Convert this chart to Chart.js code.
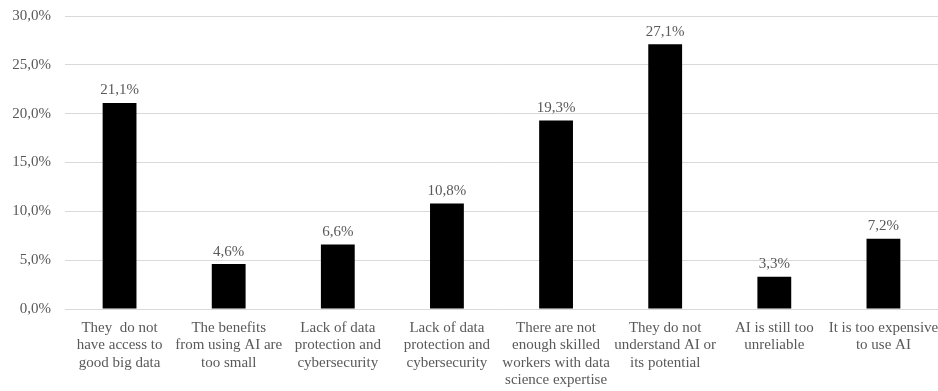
<!DOCTYPE html>
<html>
<head>
<meta charset="utf-8">
<script src="https://cdn.jsdelivr.net/npm/chart.js@4.4.1/dist/chart.umd.min.js"></script>
<style>
  html, body { margin: 0; padding: 0; background: #fff; }
  #wrap { width: 938px; height: 391px; position: relative; }
</style>
</head>
<body>
<div id="wrap"><canvas id="c"></canvas></div>
<script>
// Reasons given for not using AI (share of respondents, %)
const categories = [
  ["They  do not", "have access to", "good big data"],
  ["The benefits", "from using AI are", "too small"],
  ["Lack of data", "protection and", "cybersecurity"],
  ["Lack of data", "protection and", "cybersecurity"],
  ["There are not", "enough skilled", "workers with data", "science expertise"],
  ["They do not", "understand AI or", "its potential"],
  ["AI is still too", "unreliable"],
  ["It is too expensive", "to use AI"]
];
const shares = [21.1, 4.6, 6.6, 10.8, 19.3, 27.1, 3.3, 7.2];
const yTicks = [0, 5, 10, 15, 20, 25, 30];

const FONT = "'Liberation Serif', 'DejaVu Serif', serif";
const TEXT = "#595959";
const fmt = v => v.toFixed(1).replace(".", ",") + "%";

// Writes each bar's value just above it
const valueLabels = {
  id: "valueLabels",
  afterDatasetsDraw(chart) {
    const ctx = chart.ctx;
    const meta = chart.getDatasetMeta(0);
    ctx.save();
    ctx.font = "15px " + FONT;
    ctx.fillStyle = TEXT;
    ctx.textAlign = "center";
    ctx.textBaseline = "bottom";
    meta.data.forEach((bar, i) => {
      ctx.fillText(fmt(shares[i]), bar.x, bar.y - 5);
    });
    ctx.restore();
  }
};

new Chart(document.getElementById("c"), {
  type: "bar",
  data: {
    labels: categories,
    datasets: [{
      data: shares,
      backgroundColor: "#000",
      borderWidth: 0,
      barPercentage: 0.31,
      categoryPercentage: 1
    }]
  },
  options: {
    responsive: true,
    maintainAspectRatio: false,
    animation: false,
    layout: { padding: { top: 16, right: 0, left: 0, bottom: 0 } },
    plugins: { legend: { display: false }, tooltip: { enabled: false } },
    scales: {
      x: {
        grid: { display: false, drawTicks: false },
        border: { display: false },
        ticks: {
          color: TEXT,
          font: { family: FONT, size: 15, lineHeight: 1.17 },
          padding: 10,
          maxRotation: 0,
          autoSkip: false
        },
        afterFit(scale) {
          scale.height = 82;
          scale.paddingLeft = 0;
          scale.paddingRight = 0;
        }
      },
      y: {
        min: 0,
        max: 30,
        afterBuildTicks(scale) { scale.ticks = yTicks.map(v => ({ value: v })); },
        grid: { color: "#d9d9d9", lineWidth: 1, drawTicks: false },
        border: { display: false },
        ticks: {
          color: TEXT,
          font: { family: FONT, size: 15 },
          padding: 14,
          callback: v => fmt(v)
        },
        afterFit(scale) {
          scale.width = 65;
          scale.paddingTop = 0;
          scale.paddingBottom = 0;
        }
      }
    }
  },
  plugins: [valueLabels]
});
</script>
</body>
</html>
